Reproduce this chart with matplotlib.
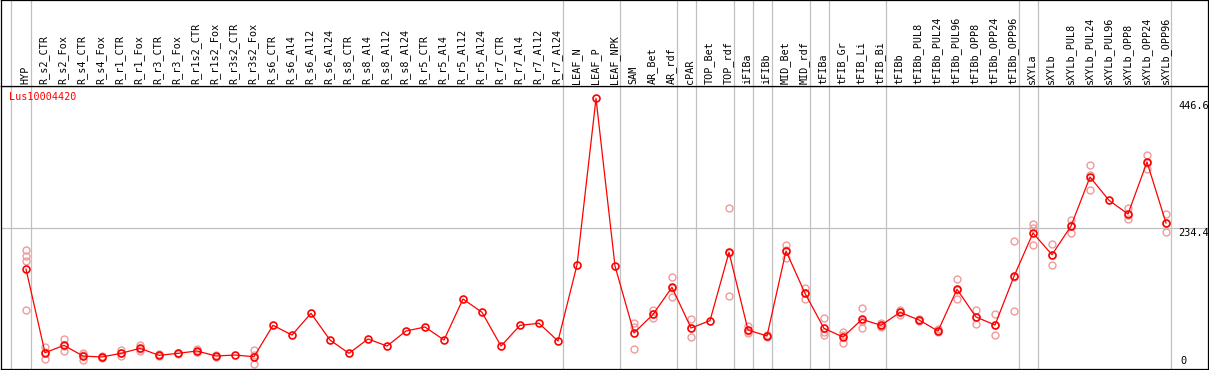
import matplotlib
matplotlib.use('Agg')
import matplotlib.pyplot as plt
import matplotlib.transforms as mtransforms

# sample names, in plotting order
samples = [
    'HYP', 'R_s2_CTR', 'R_s2_Fox', 'R_s4_CTR', 'R_s4_Fox', 'R_r1_CTR', 'R_r1_Fox',
    'R_r3_CTR', 'R_r3_Fox', 'R_r1s2_CTR', 'R_r1s2_Fox', 'R_r3s2_CTR', 'R_r3s2_Fox',
    'R_s6_CTR', 'R_s6_Al4', 'R_s6_Al12', 'R_s6_Al24', 'R_s8_CTR', 'R_s8_Al4',
    'R_s8_Al12', 'R_s8_Al24', 'R_r5_CTR', 'R_r5_Al4', 'R_r5_Al12', 'R_r5_Al24',
    'R_r7_CTR', 'R_r7_Al4', 'R_r7_Al12', 'R_r7_Al24', 'LEAF_N', 'LEAF_P', 'LEAF_NPK',
    'SAM', 'AR_Bet', 'AR_rdf', 'cPAR', 'TOP_Bet', 'TOP_rdf', 'iFIBa', 'iFIBb',
    'MID_Bet', 'MID_rdf', 'tFIBa', 'tFIB_Gr', 'tFIB_Li', 'tFIB_Bi', 'tFIBb',
    'tFIBb_PUL8', 'tFIBb_PUL24', 'tFIBb_PUL96', 'tFIBb_OPP8', 'tFIBb_OPP24',
    'tFIBb_OPP96', 'sXYLa', 'sXYLb', 'sXYLb_PUL8', 'sXYLb_PUL24', 'sXYLb_PUL96',
    'sXYLb_OPP8', 'sXYLb_OPP24', 'sXYLb_OPP96',
]

# mean expression per sample
means = [
    168.0, 31.5, 43.5, 26.1, 24.5, 30.5, 38.7, 27.2, 30.5, 34.3, 26.1, 27.7, 25.0,
    76.2, 60.4, 95.8, 52.2, 30.5, 53.9, 42.4, 66.9, 73.5, 52.2, 119.2, 97.4,
    42.4, 76.2, 79.5, 50.6, 174.7, 446.6, 173.0,
    63.7, 94.1, 138.2, 71.8, 83.8, 195.4, 68.6, 58.8, 197.5, 128.4,
    71.3, 57.1, 86.0, 76.2, 97.4, 84.9, 66.9, 135.0, 89.8, 76.7, 156.2,
    226.9, 191.5, 238.3, 318.3, 280.3, 257.9, 342.8, 243.2,
]

# individual replicates (empty where none are drawn)
replicates = [
    [199.0, 189.5, 181.7, 100.7], [40.3, 20.7, 33.0], [53.9, 34.3, 42.0],
    [30.5, 20.1, 27.5], [22.5, 25.0, 26.5], [35.4, 25.6, 30.5], [44.6, 34.8, 37.0],
    [25.5, 28.8], [29.5, 31.5], [38.0, 32.0, 33.0], [24.0, 28.0], [], [35.4, 13.1, 27.0],
    [], [], [], [], [], [], [], [], [], [], [], [], [], [], [], [], [], [], [],
    [80.0, 74.0, 37.0], [101.0, 87.6, 94.0], [155.6, 121.9, 137.0], [86.5, 57.1, 72.0],
    [], [267.7, 124.1, 194.5], [75.6, 63.2, 67.0], [60.5, 57.2, 58.7],
    [207.3, 186.6, 199.0], [136.6, 119.2, 129.5],
    [88.1, 64.8, 61.0], [64.8, 46.8, 60.0], [104.0, 71.3, 83.0], [80.0, 74.0, 75.0],
    [101.0, 93.5, 97.5], [87.0, 82.5, 85.0], [69.5, 64.5, 67.0], [151.3, 119.7, 134.0],
    [101.2, 77.8, 90.0], [94.2, 59.9, 76.0], [213.3, 99.6, 155.7],
    [241.6, 235.0, 206.8], [208.9, 174.2, 191.0], [248.1, 226.4, 240.0],
    [337.4, 296.6, 321.0], [], [267.2, 249.3, 257.0], [354.2, 331.9, 342.0],
    [257.4, 228.0, 244.0],
]

# a separator is drawn after each of these samples
group_ends = ['HYP', 'R_r7_Al24', 'LEAF_NPK', 'AR_rdf', 'cPAR', 'TOP_rdf', 'iFIBa',
              'iFIBb', 'MID_rdf', 'tFIBa', 'tFIB_Bi', 'tFIBb_OPP96', 'sXYLa',
              'sXYLb_OPP96']

gene = 'Lus10004420'
y_marks = [446.6, 234.4]

W, H = 1209, 370
fig = plt.figure(figsize=(W / 100, H / 100), dpi=100)
ax = fig.add_axes([1 / W, 1 / H, 1207 / W, 283 / H])
hax = fig.add_axes([1 / W, 284 / H, 1207 / W, 86 / H])

x = list(range(len(samples)))
xlim = ((1 - 26) / 19, (1208 - 26) / 19)
sep_pos = [-0.8] + [samples.index(s) + 0.24 for s in group_ends]

for a in (ax, hax):
    a.set_xlim(*xlim)
    a.set_xticks([])
    a.set_yticks([])
    for sp in a.spines.values():
        sp.set_linewidth(0.9)
        sp.set_color('black')
    for p in sep_pos:
        a.axvline(p, color='#c0c0c0', linewidth=0.9, zorder=0)

ax.set_ylim(4.9, 466.9)
ax.axhline(y_marks[1], color='#c0c0c0', linewidth=0.9, zorder=0)

# replicates
for i, reps in enumerate(replicates):
    if reps:
        ax.plot([i] * len(reps), reps, linestyle='none', marker='o', markersize=5,
                markerfacecolor='none', markeredgecolor='#f09a9a', markeredgewidth=1.0,
                zorder=2)

# means
ax.plot(x, means, color='red', linewidth=0.9, marker='o', markersize=5,
        markerfacecolor='none', markeredgecolor='red', markeredgewidth=1.2, zorder=3)

# column labels
hax.set_ylim(0, 86)
for i, name in enumerate(samples):
    hax.text(i - 0.05, 2.5, name, rotation=90, ha='center', va='bottom',
             fontsize=7.3, family='DejaVu Sans Mono')

# value labels on the right
trans = mtransforms.blended_transform_factory(ax.transAxes, ax.transData)
for v in y_marks:
    off = mtransforms.offset_copy(trans, fig=fig, x=0, y=-3 if v == y_marks[0] else 0,
                                  units='dots')
    ax.text(1177 / 1207, v, f'{v:g}', transform=off, ha='left', va='top',
            fontsize=7.4, family='DejaVu Sans Mono')
ax.text(1179 / 1207, 0.01, '0', transform=ax.transAxes, ha='left', va='bottom',
        fontsize=7.4, family='DejaVu Sans Mono')

fig.text(9 / W, 1 - 97.5 / H, gene, color='red', ha='left', va='center',
         fontsize=7.3, family='DejaVu Sans Mono')

fig.savefig('out.png', dpi=100)
